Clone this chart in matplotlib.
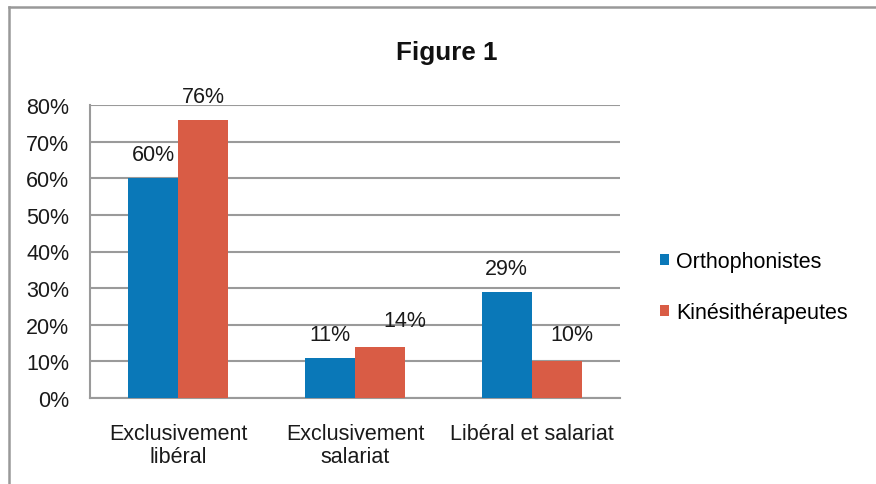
import matplotlib
matplotlib.use("Agg")
import matplotlib.pyplot as plt
from matplotlib.lines import Line2D
from matplotlib.patches import Patch
import numpy as np

plt.rcParams['font.family'] = ['Liberation Sans', 'DejaVu Sans']

# Data
categories = ["Exclusivement\nlibéral", "Exclusivement\nsalariat", "Libéral et salariat"]
series_names = ["Orthophonistes", "Kinésithérapeutes"]
orthophonistes = [60, 11, 29]
kinesitherapeutes = [76, 14, 10]
y_ticks = [0, 10, 20, 30, 40, 50, 60, 70, 80]
title = "Figure 1"

colors = ["#0a78b8", "#d95c45"]
grid_color = "#9a9a9a"
fs = 15.5

fig = plt.figure(figsize=(8.76, 4.85), dpi=100)
ax = fig.add_axes([90 / 876, 1 - 399 / 485, 530 / 876, 293 / 485])

x = np.arange(len(categories))
bar_w = 0.283
series = [orthophonistes, kinesitherapeutes]
# per-label offsets in points (dx, dy) above each bar top
label_offsets = [
    [(0, 17), (0, 17), (0, 17)],
    [(0, 17), (18, 19), (11, 19)],
]
for i, (vals, col) in enumerate(zip(series, colors)):
    pos = x + (i - 0.5) * bar_w
    ax.bar(pos, vals, width=bar_w, color=col, zorder=3, label=series_names[i])
    for j, (px, v) in enumerate(zip(pos, vals)):
        dx, dy = label_offsets[i][j]
        ax.annotate(f"{v}%", xy=(px, v), xytext=(dx, dy), textcoords="offset points",
                    ha="center", va="center", fontsize=fs, color="#1a1a1a")

ax.set_xlim(-0.5, len(categories) - 0.5)
ax.set_ylim(0, 80)
ax.set_yticks(y_ticks)
ax.set_yticklabels([f"{t}%" for t in y_ticks])
ax.set_xticks(x)
ax.set_xticklabels(categories, linespacing=1.1)
ax.tick_params(axis="y", length=0, pad=15, labelsize=fs, colors="#1a1a1a")
ax.tick_params(axis="x", length=0, pad=18, labelsize=fs, colors="#1a1a1a")
for lbl in ax.get_yticklabels():
    lbl.set_y(lbl.get_position()[1])
ax.yaxis.grid(True, color=grid_color, linewidth=1.5, zorder=0)
ax.set_axisbelow(True)
for side in ["top", "right"]:
    ax.spines[side].set_visible(False)
for side in ["left", "bottom"]:
    ax.spines[side].set_color(grid_color)
    ax.spines[side].set_linewidth(1.5)

# title
fig.text(447 / 876, 1 - 53 / 485, title, ha="center", va="center",
         fontsize=18.7, fontweight="bold", color="#111111")

# legend
handles = [Patch(facecolor=c, edgecolor="none") for c in colors]
fig.legend(handles, series_names, loc="center left",
           bbox_to_anchor=(660 / 876, 1 - 288 / 485), frameon=False,
           fontsize=fs, handlelength=0.4, handleheight=0.4,
           handletextpad=0.35, labelspacing=1.4, borderaxespad=0, borderpad=0)

# chart frame (top and left edges)
fig.add_artist(Line2D([9 / 876, 9 / 876], [0, 1 - 8 / 485], color="#999999",
                      linewidth=1.8, transform=fig.transFigure))
fig.add_artist(Line2D([9 / 876, 1], [1 - 8 / 485, 1 - 8 / 485], color="#999999",
                      linewidth=1.8, transform=fig.transFigure))

fig.savefig("out.png", dpi=100, facecolor="white")
